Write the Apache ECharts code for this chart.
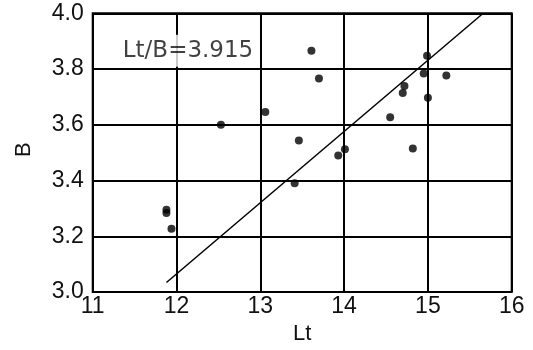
<!DOCTYPE html>
<html>
<head>
<meta charset="utf-8">
<script src="https://cdn.jsdelivr.net/npm/echarts@6/dist/echarts.min.js"></script>
<style>
  html, body { margin: 0; padding: 0; background: #fff; }
  #chart { width: 533px; height: 350px; }
</style>
</head>
<body>
<div id="chart"></div>
<script>
// Measured samples: total length Lt against breadth B
const ltValues = [13.61, 13.70, 13.06, 12.53, 13.46, 13.41, 13.93, 14.01, 14.55, 14.70, 14.72,
                  14.82, 14.95, 14.99, 15.00, 15.22, 11.88, 11.88, 11.94];
const bValues  = [3.866, 3.766, 3.646, 3.600, 3.544, 3.390, 3.490, 3.512, 3.627, 3.714, 3.739,
                  3.515, 3.784, 3.848, 3.697, 3.777, 3.295, 3.284, 3.227];

// Proportional fit B = Lt / ratio
const ratio = 3.915;
const fitLtRange = [11.88, 15.66];

const xTicks = [11, 12, 13, 14, 15, 16];
const yTicks = [3.0, 3.2, 3.4, 3.6, 3.8, 4.0];

const points = ltValues.map((lt, i) => [lt, bValues[i]]);
const fitLine = fitLtRange.map(lt => [lt, lt / ratio]);

const tickFont = { fontFamily: 'Liberation Sans', fontSize: 23, color: '#111' };

const chart = echarts.init(document.getElementById('chart'), null, { renderer: 'canvas' });
chart.setOption({
  animation: false,
  backgroundColor: '#fff',
  grid: {
    left: 92.7, right: 21.3, top: 13.3, bottom: 46.7,
    show: true, borderColor: '#000', borderWidth: 2, backgroundColor: 'transparent'
  },
  xAxis: {
    type: 'value',
    min: xTicks[0], max: xTicks[xTicks.length - 1], interval: 1,
    name: 'Lt', nameLocation: 'middle', nameGap: 28,
    nameTextStyle: { fontFamily: 'Liberation Sans', fontSize: 22, color: '#111' },
    axisLine: { show: false },
    axisTick: { show: false },
    axisLabel: Object.assign({ margin: 3 }, tickFont),
    splitLine: { show: true, lineStyle: { color: '#000', width: 2 } }
  },
  yAxis: {
    type: 'value',
    min: yTicks[0], max: yTicks[yTicks.length - 1], interval: 0.2,
    name: 'B', nameLocation: 'middle', nameGap: 58, nameRotate: 90,
    nameTextStyle: { fontFamily: 'Liberation Sans', fontSize: 22, color: '#111', padding: [0, 0, 0, 6] },
    axisLine: { show: false },
    axisTick: { show: false },
    axisLabel: Object.assign({
      margin: 9,
      padding: [6, 0, 0, 0],
      formatter: v => v.toFixed(1)
    }, tickFont),
    splitLine: { show: true, lineStyle: { color: '#000', width: 2 } }
  },
  series: [
    {
      name: 'fit',
      type: 'line',
      data: fitLine,
      symbol: 'none',
      lineStyle: { color: '#000', width: 1.5 },
      z: 3
    },
    {
      name: 'samples',
      type: 'scatter',
      data: points,
      symbol: 'circle',
      symbolSize: 8,
      itemStyle: { color: '#000' },
      z: 4
    },
    {
      name: 'ratio label',
      type: 'scatter',
      data: [[11.335, 3.866]],
      symbolSize: 0,
      silent: true,
      z: 5,
      label: {
        show: true,
        position: 'inside',
        align: 'left',
        verticalAlign: 'middle',
        formatter: 'Lt/B=' + ratio,
        fontFamily: 'DejaVu Sans',
        fontSize: 23,
        color: '#111',
        backgroundColor: '#fff',
        padding: [5, 2, 4, 2]
      }
    }
  ]
});
</script>
</body>
</html>
